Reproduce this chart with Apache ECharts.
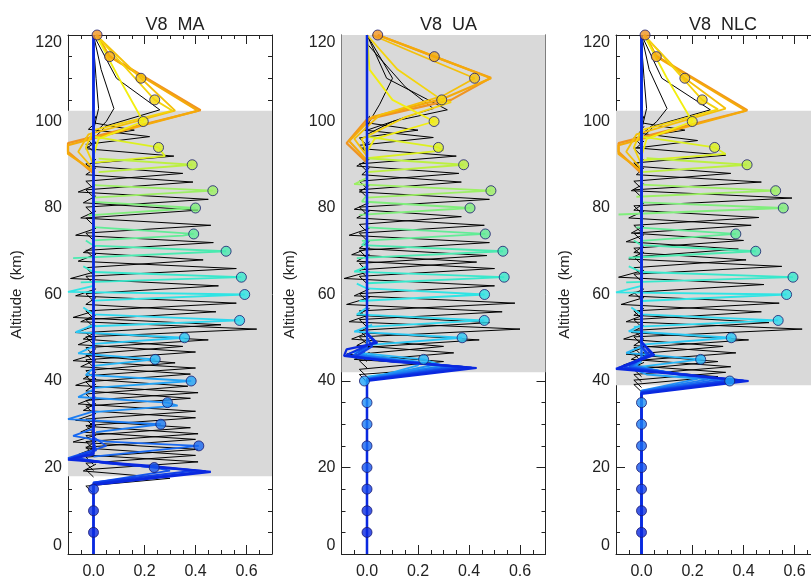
<!DOCTYPE html>
<html>
<head>
<meta charset="utf-8">
<title>V8 averaging kernels</title>
<script src="https://cdn.jsdelivr.net/npm/echarts@6/dist/echarts.min.js"></script>
<style>html,body{margin:0;padding:0;background:#fff}#box{width:811px;height:577px}</style>
</head>
<body>
<div id="box"></div>
<script>
// nominal altitudes of the coloured kernels (km), same in all three panels
var kernelAlt = [5,10,15,20,25,30,35,40,45,50,54,60,64,70,74,80,84,90,94,100,105,110,115,120];
var kernelColour = ['#0a28e0','#0c30e0','#1040e8','#1454ec','#1868f0','#1c7cf2','#2090f4','#22a4f6',
  '#26b6f6','#2ac8f4','#2ed8ee','#30e4e4','#38e8cc','#4aeab0','#62ec96','#80ee7c',
  '#9cf064','#bcf040','#dcf020','#f2ee10','#f4d40c','#f4c00a','#f4aa0a','#f09422'];
var panelTitle = ['V8  MA', 'V8  UA', 'V8  NLC'];
var grayLow = [18, 42, 39];
var grayHigh = [102.5, 120, 102.5];

// kernel value at its own altitude (the circles)
var maDiag = [0,0,0,0.238,0.413,0.264,0.29,0.383,0.242,0.357,0.573,0.593,0.58,0.52,0.393,0.40,0.468,0.387,0.255,0.195,0.24,0.186,0.063,0.014];
var uaDiag = [0,0,0,0,0,0,0,-0.01,0.222,0.373,0.46,0.461,0.538,0.533,0.464,0.404,0.486,0.379,0.28,0.263,0.293,0.422,0.264,0.042];
var nlcDiag = [0,0,0,0,0,0,0,0.346,0.232,0.352,0.536,0.569,0.594,0.448,0.37,0.556,0.526,0.414,0.287,0.199,0.238,0.17,0.058,0.014];

// coloured kernels as [value, altitude] vertices, one per nominal altitude
var maLines = [
  [[0,0],[0,16],[0.46,19],[0.2,20.5],[-0.1,21.8],[-0.1,22.2],[0,23],[0,120]],
  [[0,0],[0,16.2],[0.44,19.1],[0.1,20.8],[-0.09,22],[0,23.3],[0,120]],
  [[0,0],[0,16.5],[0.40,19.3],[0.05,21],[-0.08,22.3],[0.01,24],[0,26],[0,120]],
  [[0,16.5],[0.3,19.3],[0.238,20],[-0.1,22.2],[0.05,25],[0,27]],
  [[0,22.5],[0.413,25],[0.05,26],[-0.08,27.3],[0,29]],
  [[0.01,28.2],[0.264,30],[-0.1,31.2],[0,33]],
  [[0,32.8],[0.33,34.3],[0.29,35],[-0.06,36.3],[0,38]],
  [[0,38.4],[0.383,40],[-0.03,41.4],[0,43]],
  [[0,43.5],[0.242,45],[-0.06,46.4],[0,48]],
  [[0,48.6],[0.357,50],[-0.07,51.3],[0,53]],
  [[-0.02,52.6],[0.573,54],[0,55.4],[-0.04,57]],
  [[0,58.6],[0.593,60],[-0.1,60.6],[0,62]],
  [[-0.05,62.8],[0.58,64],[0,65.2],[-0.04,66.5]],
  [[-0.08,68.4],[0.52,70],[0,71.3],[-0.03,72.5]],
  [[0,72.5],[0.35,73.6],[0.393,74],[0,75.6]],
  [[-0.02,78.3],[0.40,80],[0,81.4]],
  [[0,82.4],[0.468,84],[0,85.3]],
  [[0.02,88.3],[0.387,90],[0.02,91.4]],
  [[0,90.5],[0.28,92],[0.255,94],[0,96.5]],
  [[0,92],[0.02,96],[0.195,100],[0.1,110],[0.01,120]],
  [[0,90],[-0.03,94],[0,98],[0.31,102.5],[0.24,105],[0.01,120]],
  [[0,89],[-0.06,93],[-0.02,97],[0.32,102.5],[0.186,110],[0.01,120]],
  [[0,88.5],[-0.1,92.5],[-0.1,94.5],[0.41,102.5],[0.063,115],[0.014,120]],
  [[0,88],[-0.1,93],[-0.1,95],[0.42,102.6],[0.06,115.2],[0.014,120]]
];
var uaLines = [
  [[0,0],[0,40],[0.43,43],[0.1,44.5],[-0.09,45.8],[-0.08,47.3],[0.04,48.8],[0,51],[0,120]],
  [[0,0],[0,40.2],[0.41,43.1],[0.05,44.8],[-0.08,46],[0.03,49],[0,51],[0,120]],
  [[0,0],[0,40.3],[0.38,43.2],[-0.05,45.5],[0.02,48],[0,50],[0,120]],
  [[0,0],[0,40.4],[0.36,43.3],[-0.06,45.7],[0,48],[0,120]],
  [[0,0],[0,40.5],[0.33,43.4],[-0.04,45.8],[0,48],[0,120]],
  [[0,0],[0,40.6],[0.30,43.5],[-0.03,46],[0,48],[0,120]],
  [[0,0],[0,40.6],[0.26,43.7],[-0.02,46],[0,48],[0,120]],
  [[-0.01,40],[0.04,41],[0.2,43.6],[0.2,44.5],[-0.03,46.2],[0,48]],
  [[0,41],[0.3,43.5],[0.222,45],[-0.05,46.6],[0,48.5]],
  [[0,48.3],[0.373,50],[-0.05,51.4],[0.02,53]],
  [[0,52.5],[0.46,54],[-0.04,55.4],[0,57]],
  [[-0.03,58.5],[0.461,60],[0,61.4],[-0.04,62.5]],
  [[0,62.6],[0.538,64],[-0.05,65.3],[0,66.5]],
  [[-0.04,68.4],[0.533,70],[-0.02,71.4],[0,72.5]],
  [[-0.02,72.4],[0.464,74],[0,75.5]],
  [[-0.03,78.4],[0.404,80],[-0.02,81.5],[0,83]],
  [[0,82.4],[0.486,84],[-0.05,85.5],[0,87]],
  [[0,88.3],[0.379,90],[0,91.5]],
  [[0,91.5],[0.3,93.3],[0.28,94],[0,96.5]],
  [[0,93],[0.03,96],[0.263,100],[0.1,105],[0.01,112],[0,120]],
  [[0,92],[-0.02,96],[0.15,101],[0.33,104.5],[0.293,105],[0.12,112],[0,120]],
  [[0,92],[-0.05,96],[0.05,101.5],[0.3,106],[0.422,110],[0.2,115.5],[0.02,120]],
  [[0,91],[-0.07,95.5],[0.02,101],[0.3,105.3],[0.486,110],[0.2,116.5],[0.042,120]],
  [[0,90.5],[-0.08,95],[0,100.5],[0.33,105],[0.486,110.1],[0.264,115],[0.042,120]]
];
var nlcLines = [
  [[0,0],[0,37],[0.42,40],[0.15,41.5],[-0.1,42.8],[-0.1,43.2],[0.05,46],[0,49],[0,120]],
  [[0,0],[0,37.2],[0.40,40.1],[-0.09,43],[0.04,46.2],[0,49],[0,120]],
  [[0,0],[0,37.4],[0.37,40.2],[-0.07,43.1],[0.03,46],[0,48],[0,120]],
  [[0,0],[0,37.5],[0.34,40.2],[-0.05,43.2],[0.02,46],[0,48],[0,120]],
  [[0,0],[0,37.6],[0.3,40.3],[-0.04,43.3],[0,45.5],[0,120]],
  [[0,0],[0,37.7],[0.26,40.4],[-0.03,43.4],[0,45.5],[0,120]],
  [[0,0],[0,37.8],[0.22,40.5],[-0.02,43.5],[0,45.5],[0,120]],
  [[0,37.5],[0.2,39.3],[0.346,40],[0.02,41.5],[-0.04,43],[0,44.5]],
  [[0,43.3],[0.232,45],[-0.06,46.5],[0,48]],
  [[0,48.4],[0.352,50],[-0.05,51.5],[0,53]],
  [[-0.03,52.5],[0.536,54],[0,55.4],[-0.04,57]],
  [[0,58.5],[0.569,60],[-0.1,60.5],[0,62]],
  [[-0.06,62.8],[0.594,64],[0,65.2],[-0.05,66.5]],
  [[-0.05,68.5],[0.448,70],[0,71.4],[-0.03,72.5]],
  [[0,72.4],[0.37,74],[-0.02,75.5]],
  [[-0.09,78.5],[0.556,80],[0,81.3]],
  [[-0.02,82.6],[0.526,84],[0,85.4]],
  [[0,88.3],[0.414,90],[0.02,91.5]],
  [[0,91],[0.33,92.5],[0.287,94],[0,96.5]],
  [[0,92],[0.02,96],[0.199,100],[0.1,110],[0.01,120]],
  [[0,90],[-0.03,94],[0,98],[0.3,102.8],[0.238,105],[0.01,120]],
  [[0,89],[-0.06,93],[-0.02,97],[0.33,103],[0.17,110],[0.01,120]],
  [[0,88.5],[-0.09,92.5],[-0.09,94.5],[0.41,102.5],[0.058,115],[0.014,120]],
  [[0,88],[-0.09,93],[-0.09,95],[0.415,102.6],[0.055,115.3],[0.014,120]]
];

// black kernels: [peak altitude, peak value, lobe value above the peak]
var maBlack = [[17.5,0.30,-0.04],[21.3,0.41,-0.06],[22.8,0.40,-0.03],[24.2,0.41,-0.08],[26.5,0.40,-0.05],
  [27.8,0.41,-0.02],[29.2,0.38,-0.07],[31.5,0.40,-0.04],[33,0.40,-0.06],[36,0.38,-0.03],[37.3,0.41,-0.07],
  [38.8,0.37,-0.04],[41.6,0.38,-0.05],[43,0.40,-0.08],[44.2,0.32,-0.03],[46.7,0.40,-0.06],[48,0.35,-0.04],
  [49.5,0.45,-0.07],[52,0.64,-0.05],[53,0.50,-0.08],[56,0.48,-0.03],[58,0.56,-0.07],[62,0.49,-0.09],
  [66,0.56,-0.06],[68,0.43,-0.04],[72,0.47,-0.07],[76,0.46,-0.05],[79.5,0.41,-0.04],[82,0.45,-0.06],
  [86,0.39,-0.03],[88,0.35,-0.02],[92,0.315,-0.03],[96.5,0.22,-0.02],[98,0.16,0]];
var uaBlack = [[43.3,0.39,-0.05],[44.5,0.30,-0.08],[46.5,0.34,-0.04],[48,0.30,-0.06],[49.5,0.44,-0.03],
  [52,0.60,-0.07],[53.5,0.48,-0.04],[56,0.53,-0.08],[58,0.58,-0.05],[62,0.50,-0.09],[66,0.50,-0.04],
  [67.5,0.43,-0.06],[69,0.47,-0.03],[72,0.48,-0.07],[76,0.46,-0.04],[78,0.37,-0.05],[82,0.48,-0.03],
  [86,0.37,-0.02],[88,0.36,-0.04],[92,0.35,-0.02],[96.3,0.26,-0.01],[98,0.20,0]];
var nlcBlack = [[41,0.30,-0.05],[42,0.33,-0.07],[43.3,0.35,-0.04],[44.5,0.30,-0.06],[46.5,0.37,-0.03],
  [48,0.32,-0.07],[49.5,0.42,-0.04],[52,0.63,-0.06],[53.5,0.50,-0.03],[56,0.47,-0.08],[58,0.54,-0.05],
  [62.3,0.48,-0.09],[66.5,0.55,-0.05],[68,0.41,-0.03],[70.5,0.38,-0.06],[72.5,0.40,-0.04],[76,0.43,-0.05],
  [77.8,0.46,-0.03],[82.3,0.59,-0.04],[86,0.47,-0.02],[88,0.35,-0.03],[92.2,0.33,-0.02],[95.6,0.22,-0.01],[98,0.17,0]];
// black kernels above the sensitive range, [value, altitude] vertices
var maBlackTop = [[[0,96],[0.05,99],[0.26,102.7],[0.09,110],[0,120]],
  [[0,97],[0.05,100],[0.08,103],[0.03,112],[0,120]],
  [[0,98],[0.02,103],[0.01,110],[0,118]]];
var uaBlackTop = [[[0,97],[0.1,100],[0.315,102.7],[0.077,110],[0,120]],
  [[0,98],[0.15,101],[0.26,103],[0.15,108],[0,118]],
  [[0,99],[0.05,104],[0.1,110],[0,120]]];
var nlcBlackTop = [[[0,96],[0.05,99],[0.27,102.7],[0.08,110],[0,120]],
  [[0,97],[0.06,100],[0.1,103],[0.03,112],[0,120]],
  [[0,98],[0.02,103],[0.01,110],[0,118]]];

var gridLeft = [68, 341.5, 616];
var font = '"Liberation Sans", Arial, Helvetica, sans-serif';
var ink = '#222';
var option = {animation: false, title: [], grid: [], xAxis: [], yAxis: [], series: []};

function xAxisDef(p, pos, minor, labels) {
  return {
    gridIndex: p, type: 'value', position: pos, min: -0.1, max: 0.7,
    interval: minor ? 0.05 : undefined, splitNumber: minor ? undefined : 4,
    axisLine: {show: !minor, onZero: false, lineStyle: {color: ink}},
    axisTick: {show: true, inside: true, length: minor ? 4 : 9, lineStyle: {color: ink}},
    axisLabel: {show: labels, margin: 10, fontSize: 16, fontFamily: font, color: ink,
      showMinLabel: false, showMaxLabel: false, formatter: function (v) { return v.toFixed(1); }},
    splitLine: {show: false}
  };
}
function yAxisDef(p, pos, labels) {
  return {
    gridIndex: p, type: 'value', position: pos, min: 0, max: 120, interval: 20,
    axisLine: {show: true, onZero: false, lineStyle: {color: ink}},
    axisTick: {show: true, inside: true, length: 9, lineStyle: {color: ink}},
    minorTick: {show: true, splitNumber: 4, length: 4, lineStyle: {color: ink}},
    axisLabel: {show: labels, margin: 6, fontSize: 16, fontFamily: font, color: ink,
      verticalAlignMinLabel: 'bottom', verticalAlignMaxLabel: 'top'},
    splitLine: {show: false},
    name: labels ? 'Altitude  (km)' : '', nameLocation: 'middle', nameGap: 44,
    nameTextStyle: {fontSize: 15, fontFamily: font, color: ink}
  };
}

function addPanel(p, diag, lines, black, blackTop) {
  option.grid.push({left: gridLeft[p], top: 35, width: 204, height: 519, containLabel: false, outerBoundsMode: 'none'});
  option.title.push({text: panelTitle[p], left: gridLeft[p] + 102, top: 11, textAlign: 'center',
    textStyle: {fontFamily: font, fontSize: 18, fontWeight: 'normal', color: ink}});
  var xi = option.xAxis.length, yi = option.yAxis.length;
  option.xAxis.push(xAxisDef(p, 'bottom', false, true), xAxisDef(p, 'bottom', true, false),
    xAxisDef(p, 'top', false, false), xAxisDef(p, 'top', true, false));
  option.yAxis.push(yAxisDef(p, 'left', true), yAxisDef(p, 'right', false));

  function line(data, colour, width, z) {
    option.series.push({type: 'line', xAxisIndex: xi, yAxisIndex: yi, data: data, symbol: 'none',
      silent: true, z: z, lineStyle: {color: colour, width: width}});
  }
  // shaded sensitive range
  option.series.push({type: 'line', xAxisIndex: xi, yAxisIndex: yi, data: [[0, 0], [0, 120]], symbol: 'none',
    silent: true, z: 1, lineStyle: {opacity: 0},
    markArea: {silent: true, itemStyle: {color: '#d9d9d9'},
      data: [[{coord: [-0.1, grayLow[p]]}, {coord: [0.7, grayHigh[p]]}]]}});
  black.forEach(function (k) {
    line([[0, k[0] - 3.5], [-0.03, k[0] - 1.8], [k[1], k[0]], [k[2], k[0] + 1.7], [0.01, k[0] + 3.3]], '#000', 1, 2);
  });
  blackTop.forEach(function (k) { line(k, '#000', 1, 2); });
  for (var i = lines.length - 1; i >= 0; i--) {
    var a = kernelAlt[i];
    var w = (i < 3 || a >= 115) ? 2.2 : 1.8;
    line(lines[i], kernelColour[i], w, 3);
  }
  option.series.push({type: 'scatter', xAxisIndex: xi, yAxisIndex: yi, clip: false, z: 5, silent: true,
    symbolSize: 10, itemStyle: {borderColor: '#1a1a70', borderWidth: 1},
    data: kernelAlt.map(function (a, i) {
      return {value: [diag[i], a], itemStyle: {color: kernelColour[i]}};
    })});
}

addPanel(0, maDiag, maLines, maBlack, maBlackTop);
addPanel(1, uaDiag, uaLines, uaBlack, uaBlackTop);
addPanel(2, nlcDiag, nlcLines, nlcBlack, nlcBlackTop);

var chart = echarts.init(document.getElementById('box'));
chart.setOption(option);
</script>
</body>
</html>
